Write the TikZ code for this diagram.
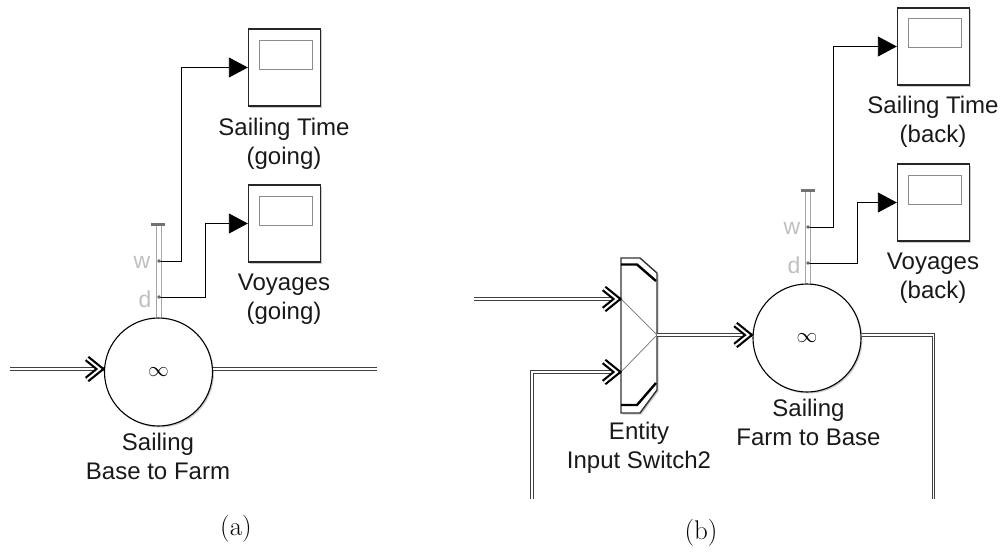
\documentclass[tikz,border=0pt]{standalone}
\usepackage{fontspec}
\newfontfamily\blockfont{Liberation Sans}
\usepackage{tikz}
\usetikzlibrary{arrows.meta,shadows}
\tikzstyle{arrow} = [-{Triangle[length=19pt,width=20pt]}, line width=0.9pt, draw=black]
\tikzstyle{entity} = [double=white, draw=black!75, line width=0.9pt, double distance=1.7pt]
\tikzstyle{rod} = [draw=black!35, line width=1.2pt, double=white, double distance=4.4pt]
\tikzstyle{label} = [font=\blockfont\fontsize{24}{29}\selectfont, align=center, inner sep=0pt, text=black!90]
\tikzstyle{port} = [font=\blockfont\fontsize{23}{26}\selectfont, inner sep=0pt, text=black!25]
\tikzstyle{scopebox} = [draw=black!85, line width=1.4pt, fill=white, minimum width=72pt, minimum height=77pt, drop shadow={shadow xshift=1.5pt, shadow yshift=-1.5pt, opacity=0.4}]
\tikzstyle{screen} = [draw=black!45, line width=0.9pt, minimum width=53pt, minimum height=29pt, inner sep=0pt]
\tikzstyle{server} = [circle, draw=black, line width=1.1pt, fill=white, minimum size=108pt, inner sep=0pt, font=\fontsize{22}{22}\selectfont, drop shadow={shadow xshift=1.5pt, shadow yshift=-1.5pt, opacity=0.4}]
\tikzset{
	chevron/.pic={
		\draw [draw=black, line width=2.2pt, double=white, double distance=2pt, miter limit=10] (-17,-10.5) -- (-4,0) -- (-17,10.5);
	}
}

\begin{document}
\begin{tikzpicture}[x=1pt, y=-1pt]
		\useasboundingbox (0,0) rectangle (1003,551);

		% (a)
		\node (1time) [scopebox] at (284.5,67.5) {};
		\node (1timescreen) [screen] at (285.5,54.5) {};
		\node (1timetext) [label] at (284,144) {Sailing Time\\(going)};
		\node (1voy) [scopebox] at (284.5,223.5) {};
		\node (1voyscreen) [screen] at (285.5,210.5) {};
		\node (1voytext) [label] at (284,299.5) {Voyages\\(going)};
		\coordinate (1rodtop) at (159,224);
		\coordinate (1w) at (159,261);
		\coordinate (1d) at (159,297);
		\coordinate (1in) at (10,369);
		\coordinate (1out) at (377,369);
		\draw [rod] (1rodtop) -- (159,320);
		\draw [draw=black!55, line width=3pt] (151,224) -- (165,224);
		\node (1server) [server] at (158.5,372) {$\infty$};
		\node (1porta) [port, left of=1w, node distance=17pt, yshift=-1pt] {w};
		\node (1portb) [port, left of=1d, node distance=14pt, yshift=-2pt] {d};
		\node (1servertext) [label] at (158,456) {Sailing\\Base to Farm};

		\draw [arrow] (1w) -| (181,67.5) -- (1time.west);
		\draw [arrow] (1d) -| (205,223.5) -- (1voy.west);
		\fill [black!60] (1w) circle (1.8);
		\fill [black!60] (1d) circle (1.8);
		\draw [entity] (1in) -- (1in -| 1server.west);
		\draw [entity] (1out -| 1server.east) -- (1out);
		\pic at (1in -| 1server.west) {chevron};

		% (b)
		\node (2time) [scopebox] at (933.5,46.5) {};
		\node (2timescreen) [screen] at (935,33) {};
		\node (2timetext) [label] at (933,122) {Sailing Time\\(back)};
		\node (2voy) [scopebox] at (933.5,202.5) {};
		\node (2voyscreen) [screen] at (935,189.5) {};
		\node (2voytext) [label] at (933,278) {Voyages\\(back)};
		\coordinate (2rodtop) at (808,190);
		\coordinate (2w) at (808,227);
		\coordinate (2d) at (808,263);
		\coordinate (2in) at (474,299);
		\coordinate (2back) at (532,499);
		\coordinate (2end) at (933.5,499);
		\draw [rod] (2rodtop) -- (808,286);
		\draw [draw=black!55, line width=3pt] (801,190) -- (815,190);
		\node (2server) [server] at (807,338) {$\infty$};
		\node (2porta) [port, left of=2w, node distance=16pt, yshift=-1pt] {w};
		\node (2portb) [port, left of=2d, node distance=14pt, yshift=-2pt] {d};
		\node (2servertext) [label] at (808.5,422) {Sailing\\Farm to Base};
		\node (2switchtext) [label] at (639,448) {Entity\\Input Switch2};

		\draw [draw=black!80, line width=1.4pt, fill=white, drop shadow={shadow xshift=1.5pt, shadow yshift=-1.5pt, opacity=0.4}] (621,258) -- (640,258) -- (657,273) -- (657,390) -- (640,413) -- (621,413) -- cycle;
		\draw [line width=2.4pt] (621,264.5) -- (637,264.5) -- (656,281);
		\draw [line width=2.4pt] (621,405) -- (637,405) -- (656,383);
		\coordinate (2upper) at (621,299);
		\coordinate (2lower) at (621,372);
		\coordinate (2mid) at (657,335);
		\draw [draw=black!55, line width=0.7pt] (2upper) -- (2mid);
		\draw [draw=black!55, line width=0.7pt] (2lower) -- (2mid);

		\draw [arrow] (2w) -| (833,46.5) -- (2time.west);
		\draw [arrow] (2d) -| (857,202.5) -- (2voy.west);
		\fill [black!60] (2w) circle (1.8);
		\fill [black!60] (2d) circle (1.8);
		\draw [entity] (2in) -- (2upper);
		\draw [entity] (2back) |- (2lower);
		\draw [entity] (2mid) -- (2mid -| 2server.west);
		\draw [entity] (2mid -| 2server.east) -| (2end);
		\pic at (2upper) {chevron};
		\pic at (2lower) {chevron};
		\pic at (2mid -| 2server.west) {chevron};

		\node (1caption) [font=\fontsize{27}{30}\selectfont, inner sep=0pt] at (236,529) {(a)};
		\node (2caption) [font=\fontsize{27}{30}\selectfont, inner sep=0pt] at (701,533) {(b)};
\end{tikzpicture}
\end{document}
